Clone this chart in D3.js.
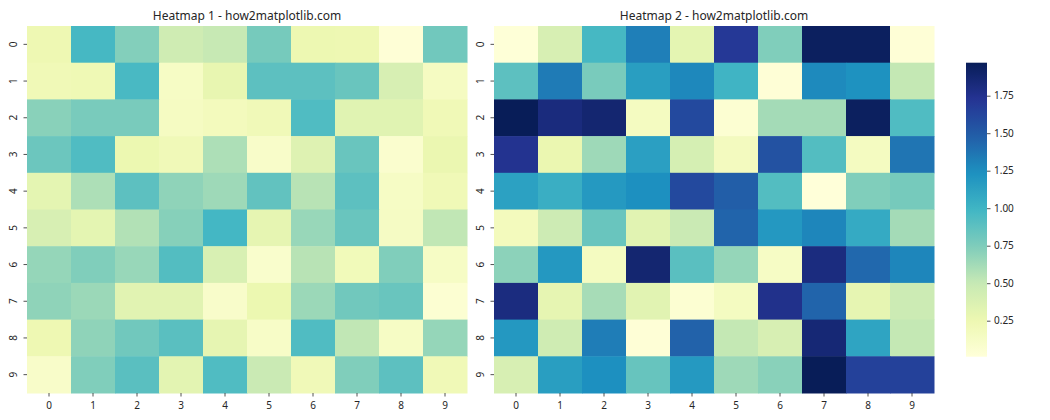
<!DOCTYPE html>
<html><head><meta charset="utf-8">
<script src="https://cdn.jsdelivr.net/npm/d3@7"></script>
<style>body{margin:0;background:#fff;} text{font-family:"Noto Sans","Open Sans",sans-serif;fill:#262626;}</style>
</head><body>
<svg id="chart" width="1050" height="420"></svg>
<script>
const rowLabels = ["0","1","2","3","4","5","6","7","8","9"];
const colLabels = ["0","1","2","3","4","5","6","7","8","9"];
const titles = ["Heatmap 1 - how2matplotlib.com", "Heatmap 2 - how2matplotlib.com"];
const colorDomain = [0.01, 1.97];
const cbarTicks = [0.25, 0.5, 0.75, 1.0, 1.25, 1.5, 1.75];
const ylgnbu = ["#ffffd9","#edf8b1","#c7e9b4","#7fcdbb","#41b6c4","#1d91c0","#225ea8","#253494","#081d58"];

const data1 = [
 [0.24,0.97,0.73,0.45,0.50,0.78,0.25,0.24,0.03,0.80],
 [0.22,0.23,0.96,0.13,0.29,0.88,0.88,0.83,0.40,0.15],
 [0.71,0.77,0.77,0.15,0.18,0.21,0.93,0.34,0.34,0.22],
 [0.82,0.93,0.26,0.21,0.59,0.11,0.35,0.83,0.08,0.27],
 [0.31,0.59,0.88,0.69,0.64,0.86,0.55,0.88,0.13,0.22],
 [0.40,0.31,0.57,0.72,0.98,0.30,0.66,0.83,0.14,0.52],
 [0.67,0.74,0.66,0.92,0.39,0.09,0.55,0.20,0.74,0.13],
 [0.69,0.65,0.33,0.33,0.10,0.26,0.65,0.80,0.83,0.05],
 [0.24,0.69,0.80,0.89,0.30,0.12,0.93,0.52,0.13,0.67],
 [0.11,0.74,0.89,0.32,0.93,0.48,0.21,0.74,0.88,0.22]
];
const data2 = [
 [0.02,0.40,0.97,1.32,0.31,1.70,0.74,1.94,1.94,0.03],
 [0.88,1.34,0.77,1.15,1.28,1.00,0.03,1.27,1.23,0.51],
 [1.97,1.82,1.87,0.16,1.60,0.05,0.62,0.62,1.94,0.93],
 [1.74,0.27,0.64,1.14,0.41,0.17,1.55,0.92,0.16,1.37],
 [1.13,1.04,1.18,1.24,1.60,1.48,0.92,0.01,0.74,0.78],
 [0.18,0.46,0.83,0.33,0.48,1.45,1.19,1.29,1.07,0.62],
 [0.70,1.19,0.16,1.87,0.89,0.67,0.13,1.81,1.43,1.29],
 [1.81,0.30,0.61,0.33,0.05,0.16,1.76,1.45,0.30,0.47],
 [1.19,0.45,1.33,0.03,1.46,0.51,0.40,1.85,1.11,0.51],
 [0.40,1.15,1.24,0.84,1.18,0.64,0.71,1.97,1.65,1.65]
];

const svg = d3.select("#chart");
const cmapInterp = d3.piecewise(d3.interpolateRgb, ylgnbu);
const color = v => cmapInterp(Math.max(0, Math.min(1, (v - colorDomain[0]) / (colorDomain[1] - colorDomain[0]))));

const plotTop = 26, plotBottom = 393;
const panels = [{x0:27, x1:467, data:data1, title:titles[0]}, {x0:494, x1:934, data:data2, title:titles[1]}];
const fontFam = '"Noto Sans","Open Sans",sans-serif';

panels.forEach(p => {
  const g = svg.append("g");
  const x = d3.scaleBand().domain(colLabels).range([p.x0, p.x1]);
  const y = d3.scaleBand().domain(rowLabels).range([plotTop, plotBottom]);
  p.data.forEach((row, i) => row.forEach((v, j) => {
    g.append("rect").attr("x", x(colLabels[j])).attr("y", y(rowLabels[i]))
      .attr("width", x.bandwidth() + 0.5).attr("height", y.bandwidth() + 0.5)
      .attr("fill", color(v));
  }));
  const xa = g.append("g").attr("transform", `translate(0,${plotBottom})`)
    .call(d3.axisBottom(x).tickSize(3.5).tickPadding(5));
  xa.select(".domain").remove();
  xa.selectAll("line").attr("stroke", "#262626").attr("stroke-width", 0.8);
  xa.selectAll("text").attr("font-size", 10).style("font-family", fontFam).attr("fill", "#262626");
  const ya = g.append("g").attr("transform", `translate(${p.x0},0)`)
    .call(d3.axisLeft(y).tickSize(3.5).tickPadding(3.5));
  ya.select(".domain").remove();
  ya.selectAll("line").attr("stroke", "#262626").attr("stroke-width", 0.8);
  ya.selectAll("text").attr("font-size", 10).style("font-family", fontFam).attr("fill", "#262626")
    .attr("x", 0).attr("dy", null).attr("text-anchor", "middle").attr("dominant-baseline", "central")
    .attr("transform", "translate(-14,0) rotate(-90)");
  g.append("text").attr("x", (p.x0 + p.x1) / 2).attr("y", 20).attr("text-anchor", "middle")
    .attr("font-size", 12).text(p.title);
});

// colorbar
const cb = {x0: 966, x1: 987, y0: 62.7, y1: 356.7};
const cy = d3.scaleLinear().domain(colorDomain).range([cb.y1, cb.y0]);
const defs = svg.append("defs");
const grad = defs.append("linearGradient").attr("id", "cbg").attr("x1", 0).attr("y1", 1).attr("x2", 0).attr("y2", 0);
d3.range(0, 1.0001, 0.02).forEach(t => grad.append("stop").attr("offset", t).attr("stop-color", cmapInterp(t)));
svg.append("rect").attr("x", cb.x0).attr("y", cb.y0).attr("width", cb.x1 - cb.x0).attr("height", cb.y1 - cb.y0).attr("fill", "url(#cbg)");
const ca = svg.append("g").attr("transform", `translate(${cb.x1},0)`)
  .call(d3.axisRight(cy).tickValues(cbarTicks).tickFormat(d3.format(".2f")).tickSize(3.5).tickPadding(3.5));
ca.select(".domain").remove();
ca.selectAll("line").attr("stroke", "#262626").attr("stroke-width", 0.8);
ca.selectAll("text").attr("font-size", 10).style("font-family", fontFam).attr("fill", "#262626");
</script>
</body></html>
